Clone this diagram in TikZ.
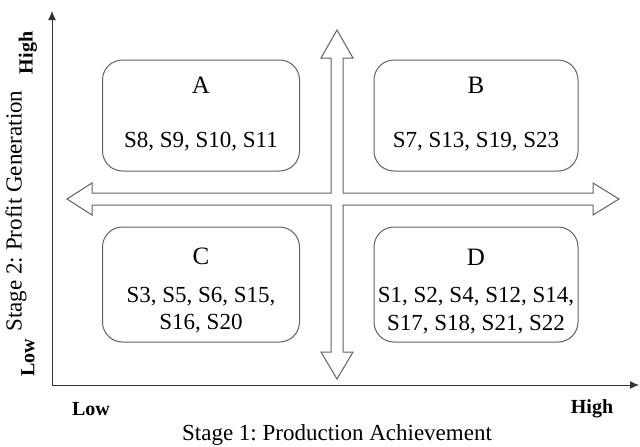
\documentclass[tikz,border=0pt]{standalone}
\usepackage{fontspec}
\setmainfont{Liberation Serif}
\usetikzlibrary{arrows.meta}
\frenchspacing
\begin{document}
\begin{tikzpicture}[x=1pt,y=-1pt,
  quad/.style={draw=black!62,line width=1pt,rounded corners=20pt,minimum width=197pt,minimum height=111pt,inner sep=0pt},
  lbl/.style={font=\fontsize{23}{27}\selectfont,anchor=base,inner sep=0pt},
  ttl/.style={font=\fontsize{25}{29}\selectfont,anchor=base,inner sep=0pt},
  axlbl/.style={font=\fontsize{23}{27}\selectfont,inner sep=0pt},
  lvl/.style={font=\fontsize{20}{24}\selectfont\bfseries,inner sep=0pt},
  axis/.style={line width=1pt,draw=black!80,{Latex[length=9pt,width=8pt]}-{Latex[length=9pt,width=8pt]}}]
\useasboundingbox (0,0) rectangle (640,447);
% axes
\coordinate (ytop) at (52,11);
\coordinate (orig) at (52,385);
\coordinate (xend) at (639,385);
\draw[axis] (ytop) -- (orig) -- (xend);
% quadrant boxes
\node[quad] (A) at (201,115.5) {};
\node[quad,minimum width=204pt] (B) at (476,115.5) {};
\node[quad,minimum height=115pt] (C) at (201,284.5) {};
\node[quad,minimum width=204pt,minimum height=115pt] (D) at (476,284.5) {};
% cross double arrows
\draw[draw=black!62,line width=1pt,fill=white,line join=miter]
  (337,30) -- (353,58) -- (343,58) -- (343,193) -- (593,193) -- (593,183) -- (619,199)
  -- (593,215) -- (593,205) -- (343,205) -- (343,352) -- (353,352) -- (337,379)
  -- (321,352) -- (331,352) -- (331,205) -- (92,205) -- (92,215) -- (67,199)
  -- (92,183) -- (92,193) -- (331,193) -- (331,58) -- (321,58) -- cycle;
% box texts
\node[ttl] (At) at (201,93) {A};
\node[lbl] (Al) at (201,147) {S8, S9, S10, S11};
\node[ttl] (Bt) at (476,93) {B};
\node[lbl] (Bl) at (476,147) {S7, S13, S19, S23};
\node[ttl] (Ct) at (201,264) {C};
\node[lbl] (Cl1) at (201,302) {S3, S5, S6, S15,};
\node[lbl] (Cl2) at (201,329) {S16, S20};
\node[ttl] (Dt) at (476,265) {D};
\node[lbl] (Dl1) at (476,302) {S1, S2, S4, S12, S14,};
\node[lbl] (Dl2) at (476,330) {S17, S18, S21, S22};
% axis labels
\node[axlbl,rotate=90] (ylab) at (16,211) {Stage 2: Profit Generation};
\node[axlbl] (xlab) at (337,435) {Stage 1: Production Achievement};
\node[lvl,rotate=90] (yhigh) at (28,53) {High};
\node[lvl,rotate=90] (ylow) at (28,358) {Low};
\node[lvl] (xlow) at (91,409) {Low};
\node[lvl] (xhigh) at (592,409) {High};
\end{tikzpicture}
\end{document}
